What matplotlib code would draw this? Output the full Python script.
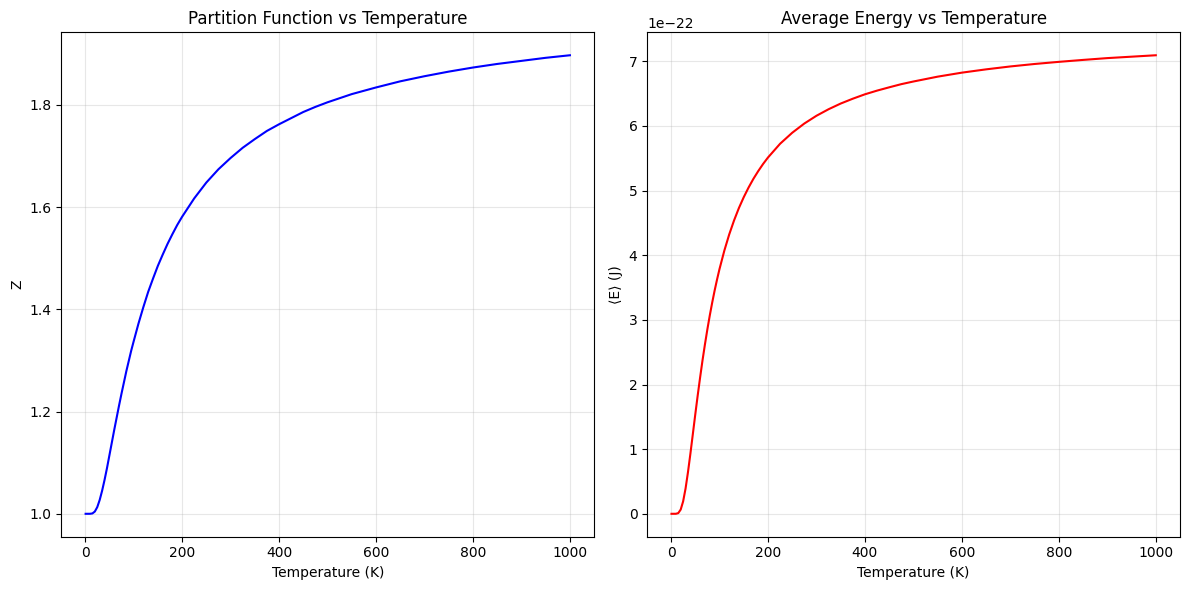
import numpy as np
import matplotlib.pyplot as plt

# ── Values ───────────────────────────────────────────────────────────────────
temperature = [1, 10, 15, 20, 25, 30, 35, 40, 45, 50, 55, 60, 65, 70, 75, 80,
               85, 90, 95, 100, 110, 120, 130, 140, 150, 160, 170, 180, 190,
               200, 225, 250, 275, 300, 325, 350, 375, 400, 425, 450, 475, 500,
               550, 600, 650, 700, 750, 800, 850, 900, 950, 1000]
partition_z = [1.0, 1.00002, 1.0007, 1.0044, 1.013, 1.027, 1.045, 1.066, 1.089,
               1.114, 1.139, 1.164, 1.188, 1.212, 1.235, 1.257, 1.279, 1.299,
               1.319, 1.337, 1.372, 1.404, 1.434, 1.460, 1.485, 1.507, 1.528,
               1.547, 1.565, 1.581, 1.617, 1.648, 1.674, 1.696, 1.716, 1.733,
               1.749, 1.762, 1.774, 1.786, 1.796, 1.805, 1.821, 1.834, 1.846,
               1.856, 1.865, 1.873, 1.880, 1.886, 1.892, 1.897]
# average energy in units of 1e-22 J
avg_energy = [0.0, 0.0003, 0.0107, 0.0654, 0.192, 0.390, 0.644, 0.930, 1.231,
              1.534, 1.827, 2.107, 2.374, 2.621, 2.853, 3.069, 3.268, 3.454,
              3.625, 3.785, 4.071, 4.320, 4.537, 4.729, 4.897, 5.047, 5.182,
              5.302, 5.412, 5.511, 5.724, 5.894, 6.037, 6.157, 6.258, 6.346,
              6.421, 6.489, 6.546, 6.597, 6.646, 6.687, 6.762, 6.824, 6.875,
              6.920, 6.958, 6.991, 7.021, 7.049, 7.071, 7.093]

T = np.array(temperature)
Z = np.array(partition_z)
E = np.array(avg_energy) * 1e-22

fig, (ax1, ax2) = plt.subplots(1, 2, figsize=(12, 6))

ax1.plot(T, Z, color='blue')
ax1.set_title("Partition Function vs Temperature")
ax1.set_xlabel("Temperature (K)")
ax1.set_ylabel("Z")
ax1.grid(alpha=0.3)

ax2.plot(T, E, color='red')
ax2.set_title("Average Energy vs Temperature")
ax2.set_xlabel("Temperature (K)")
ax2.set_ylabel("⟨E⟩ (J)")
ax2.grid(alpha=0.3)

plt.tight_layout()
plt.savefig("out.png", dpi=100, bbox_inches='tight')
